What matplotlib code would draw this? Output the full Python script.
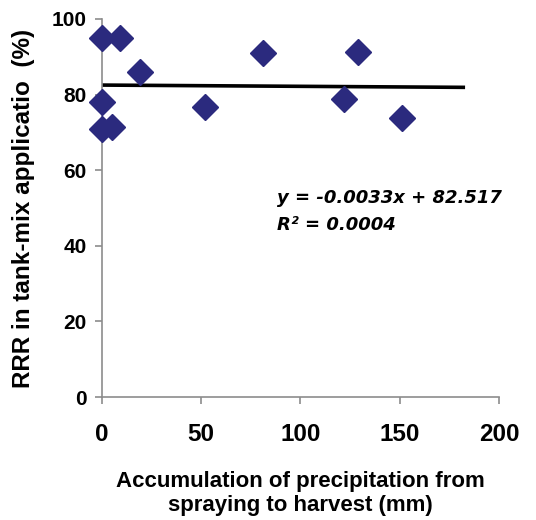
import matplotlib
matplotlib.use("Agg")
import matplotlib.pyplot as plt
import numpy as np

precip_mm = [0, 9, 19, 0, 0, 5, 52, 81, 129, 122, 151]
rrr_pct = [95, 95, 86, 78, 70.8, 71.5, 76.7, 91, 91.3, 78.8, 73.8]
trend_x = [0, 182]
slope, intercept = -0.0033, 82.517
eq_lines = ["y = -0.0033x + 82.517", "R\u00b2 = 0.0004"]
xticks = [0, 50, 100, 150, 200]
yticks = [0, 20, 40, 60, 80, 100]

plt.rcParams['font.family'] = ['Liberation Sans', 'DejaVu Sans']
fig = plt.figure(figsize=(5.36, 5.20), dpi=100)
ax = fig.add_axes([0.19, 0.2365, 0.741, 0.727])

tx = np.array(trend_x)
ax.plot(tx, slope * tx + intercept, color='black', lw=2.6, zorder=2)
ax.plot(precip_mm, rrr_pct, linestyle='none', marker='D', markersize=13,
        color='#2B2A7E', zorder=3, clip_on=False)

ax.set_xlim(0, 200)
ax.set_ylim(0, 100)
ax.set_xticks(xticks)
ax.set_yticks(yticks)
for s in ['top', 'right']:
    ax.spines[s].set_visible(False)
for s in ['left', 'bottom']:
    ax.spines[s].set_color('#8c8c8c')
    ax.spines[s].set_linewidth(1.2)
ax.tick_params(colors='#8c8c8c', length=5, width=1.2, labelcolor='black')
ax.tick_params(axis='x', labelsize=17.5, pad=14)
ax.tick_params(axis='y', labelsize=15, pad=6)
for lab in ax.get_xticklabels() + ax.get_yticklabels():
    lab.set_fontweight('bold')

ax.set_xlabel("Accumulation of precipitation from\nspraying to harvest (mm)",
              fontsize=16, fontweight='bold', labelpad=18, linespacing=1.15)
ax.set_ylabel("RRR in tank-mix applicatio  (%)", fontsize=17.5,
              fontweight='bold', labelpad=12)

ax.text(0.442, 0.513, eq_lines[0], transform=ax.transAxes, fontsize=13,
        fontweight='bold', fontstyle='italic', ha='left', va='baseline',
        family='DejaVu Sans')
ax.text(0.442, 0.442, eq_lines[1], transform=ax.transAxes, fontsize=13,
        fontweight='bold', fontstyle='italic', ha='left', va='baseline',
        family='DejaVu Sans')

fig.savefig("out.png", dpi=100)
